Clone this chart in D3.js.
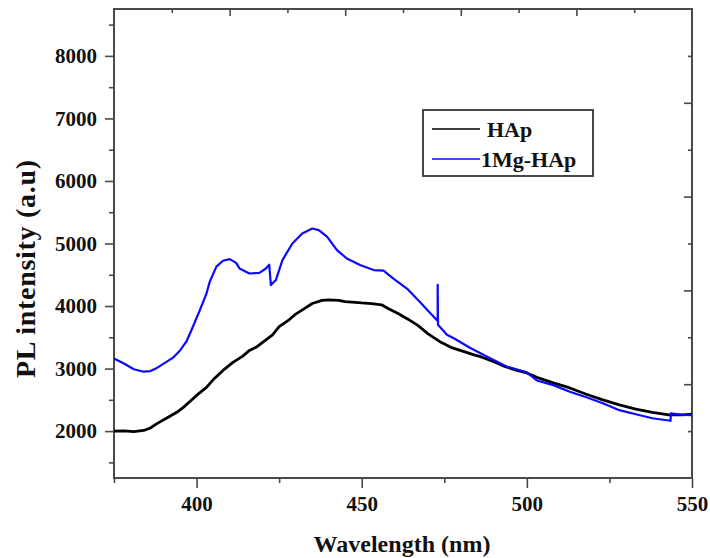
<!DOCTYPE html>
<html>
<head>
<meta charset="utf-8">
<script src="https://cdn.jsdelivr.net/npm/d3@7"></script>
<style>
  body { margin: 0; background: #fff; }
  svg text { font-family: "Liberation Serif", "Times New Roman", serif; font-weight: bold; fill: #111; }
</style>
</head>
<body>
<div id="chart"></div>
<script>
// PL spectra
const seriesNames = ["HAp", "1Mg-HAp"];
const seriesColors = ["#000000", "#0a0aff"];

const wlHAp = [375, 378, 381, 384, 386, 388, 391, 394, 396, 400, 403, 405, 408, 411, 414, 416, 418, 420,
  423, 425, 428, 430, 433, 435, 438, 440, 443, 445, 448, 450, 453, 456, 458, 461, 464, 467, 470, 474,
  477, 481, 484, 486, 490, 493, 497, 500, 503, 508, 513, 518, 523, 528, 533, 538, 543, 547, 550];
const plHAp = [2000, 2005, 1990, 2010, 2050, 2120, 2210, 2300, 2380, 2570, 2700, 2820, 2970, 3100, 3200,
  3290, 3340, 3420, 3540, 3670, 3780, 3870, 3970, 4040, 4090, 4100, 4090, 4070, 4060, 4050, 4040, 4020,
  3960, 3880, 3790, 3690, 3560, 3420, 3340, 3270, 3220, 3190, 3110, 3040, 2970, 2930, 2860, 2770, 2690,
  2590, 2500, 2420, 2350, 2300, 2260, 2260, 2270];

const wlMg = [375, 378, 381, 384, 386, 388, 391, 393, 395, 397, 398.5, 401, 403, 404, 406, 408, 410, 412,
  413, 416, 419, 421, 422, 422.5, 424, 426, 429, 432, 435, 437, 439.5, 442.5, 445.5, 449.5, 453.6, 456.6,
  459.6, 463.7, 467.7, 470, 472.5, 473, 473, 473.1, 475.8, 478, 482.9, 488, 494, 500, 503, 508, 513, 518,
  523, 528, 533, 538, 543.5, 543.6, 547, 550];
const plMg = [3160, 3080, 2990, 2950, 2960, 3010, 3110, 3180, 3290, 3440, 3620, 3935, 4200, 4390, 4630,
  4725, 4750, 4690, 4600, 4520, 4530, 4600, 4660, 4335, 4415, 4735, 5000, 5160, 5240, 5215, 5110, 4895,
  4760, 4655, 4575, 4565, 4440, 4280, 4060, 3930, 3790, 3760, 4340, 3700, 3540, 3480, 3330, 3190, 3030,
  2940, 2810, 2735, 2630, 2540, 2445, 2335, 2270, 2205, 2165, 2285, 2260, 2255];

const xMajorTicks = [400, 450, 500, 550];
const xMinorTicks = [375, 425, 475, 525];
const yMajorTicks = [2000, 3000, 4000, 5000, 6000, 7000, 8000];
const yMinorTicks = [1500, 2500, 3500, 4500, 5500, 6500, 7500, 8500];

const xLabel = "Wavelength (nm)";
const yLabel = "PL intensity (a.u)";

const width = 710, height = 558;
const margin = { top: 9, right: 18, bottom: 80, left: 114 };
const innerW = width - margin.left - margin.right;
const innerH = height - margin.top - margin.bottom;

const svg = d3.select("#chart").append("svg")
  .attr("width", width)
  .attr("height", height);

const g = svg.append("g").attr("transform", `translate(${margin.left},${margin.top})`);

const x = d3.scaleLinear().domain([375, 550]).range([0, innerW]);
const y = d3.scaleLinear().domain([1250, 8750]).range([innerH, 0]);
// mirror axes on top/right have their own unlabeled divisions
const xTop = d3.scaleLinear().domain([0, 10]).range([0, innerW]);
const yRight = d3.scaleLinear().domain([0, 10]).range([innerH, 0]);

const axisColor = "#4a4a4a";

function styleAxis(sel) {
  sel.select(".domain").remove();
  sel.selectAll(".tick line").attr("stroke", axisColor).attr("stroke-width", 1.6);
  sel.selectAll(".tick text").attr("fill", "#111").style("font-size", "21px");
}

// bottom axis
g.append("g").attr("transform", `translate(0,${innerH})`)
  .call(d3.axisBottom(x).tickValues(xMajorTicks).tickSize(10).tickPadding(8).tickFormat(d3.format("d")))
  .call(styleAxis);
g.append("g").attr("transform", `translate(0,${innerH})`)
  .call(d3.axisBottom(x).tickValues(xMinorTicks).tickSize(5).tickFormat(""))
  .call(styleAxis);

// left axis
g.append("g")
  .call(d3.axisLeft(y).tickValues(yMajorTicks).tickSize(9).tickPadding(8).tickFormat(d3.format("d")))
  .call(styleAxis);
g.append("g")
  .call(d3.axisLeft(y).tickValues(yMinorTicks).tickSize(5).tickFormat(""))
  .call(styleAxis);

// top axis, ticks inward
g.append("g")
  .call(d3.axisBottom(xTop).tickValues([2, 4, 6, 8]).tickSize(7).tickFormat(""))
  .call(styleAxis);
g.append("g")
  .call(d3.axisBottom(xTop).tickValues([1, 3, 5, 7, 9]).tickSize(4).tickFormat(""))
  .call(styleAxis);

// right axis, ticks inward
g.append("g").attr("transform", `translate(${innerW},0)`)
  .call(d3.axisLeft(yRight).tickValues([2, 4, 6, 8]).tickSize(8).tickFormat(""))
  .call(styleAxis);
g.append("g").attr("transform", `translate(${innerW},0)`)
  .call(d3.axisLeft(yRight).tickValues([1, 3, 5, 7, 9]).tickSize(4).tickFormat(""))
  .call(styleAxis);

// frame
g.append("rect")
  .attr("width", innerW).attr("height", innerH)
  .attr("fill", "none").attr("stroke", axisColor).attr("stroke-width", 2);

// curves
g.append("clipPath").attr("id", "plotclip")
  .append("rect").attr("width", innerW).attr("height", innerH);

const line = d3.line()
  .x(d => x(d[0]))
  .y(d => y(d[1]));

const series = [
  { name: seriesNames[0], color: seriesColors[0], pts: d3.zip(wlHAp, plHAp), w: 2.8 },
  { name: seriesNames[1], color: seriesColors[1], pts: d3.zip(wlMg, plMg), w: 2.2 }
];

g.append("g").attr("clip-path", "url(#plotclip)")
  .selectAll("path")
  .data(series)
  .enter()
  .append("path")
  .attr("d", d => line(d.pts))
  .attr("fill", "none")
  .attr("stroke", d => d.color)
  .attr("stroke-width", d => d.w)
  .attr("stroke-linejoin", "round");

// legend
const legend = svg.append("g").attr("transform", "translate(423,110)");
legend.append("rect")
  .attr("width", 170).attr("height", 66)
  .attr("fill", "#fff").attr("stroke", "#333").attr("stroke-width", 1.8);

const items = legend.selectAll(".item")
  .data(series)
  .enter()
  .append("g")
  .attr("transform", (d, i) => `translate(0,${19 + i * 30})`);

items.append("line")
  .attr("x1", 9).attr("x2", 57)
  .attr("stroke", d => d.color).attr("stroke-width", 1.5);

items.append("text")
  .attr("x", (d, i) => i === 0 ? 64 : 58)
  .attr("y", 8)
  .style("font-size", "22px")
  .text(d => d.name);

// axis titles
svg.append("text")
  .attr("x", 402).attr("y", 552)
  .attr("text-anchor", "middle")
  .attr("textLength", 177)
  .style("font-size", "24px")
  .text(xLabel);

svg.append("text")
  .attr("transform", "translate(35,269) rotate(-90)")
  .attr("text-anchor", "middle")
  .attr("textLength", 218)
  .style("font-size", "28px")
  .text(yLabel);
</script>
</body>
</html>
